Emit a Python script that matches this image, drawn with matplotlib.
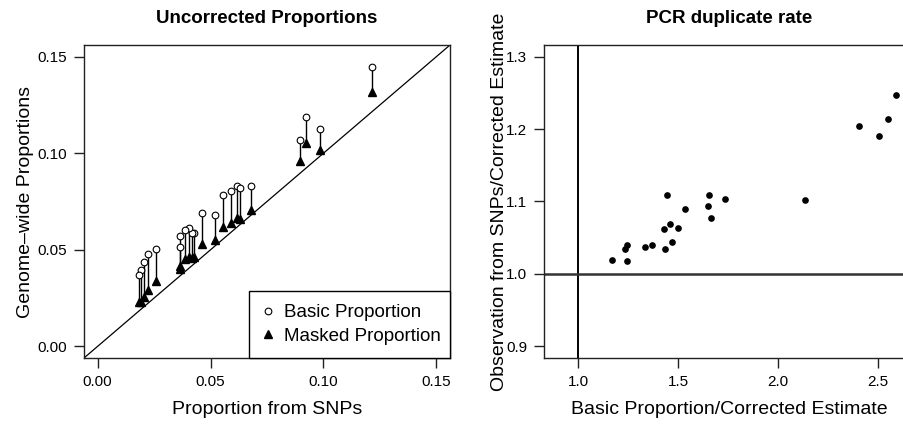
import matplotlib
matplotlib.use("Agg")
import matplotlib.pyplot as plt

plt.rcParams['font.family'] = ['Liberation Sans', 'DejaVu Sans']

# left panel: proportion from SNPs vs genome-wide proportions
snp_prop = [0.1213, 0.0894, 0.0924, 0.0984, 0.0681, 0.0615, 0.0630, 0.0590,
            0.0557, 0.0518, 0.0463, 0.0425, 0.0416, 0.0406, 0.0387, 0.0365,
            0.0365, 0.0260, 0.0225, 0.0205, 0.0191, 0.0183]
basic_prop = [0.1445, 0.1067, 0.1187, 0.1127, 0.0830, 0.0830, 0.0818, 0.0804,
              0.0782, 0.0682, 0.0691, 0.0589, 0.0586, 0.0612, 0.0600, 0.0572,
              0.0517, 0.0502, 0.0476, 0.0435, 0.0397, 0.0368]
masked_prop = [0.1316, 0.0960, 0.1053, 0.1015, 0.0706, 0.0663, 0.0660, 0.0641,
               0.0620, 0.0552, 0.0529, 0.0462, 0.0457, 0.0462, 0.0454, 0.0414,
               0.0400, 0.0337, 0.0290, 0.0256, 0.0230, 0.0228]

# right panel: PCR duplicate rate
basic_ratio = [1.167, 1.244, 1.235, 1.242, 1.334, 1.370, 1.432, 1.430, 1.457,
               1.469, 1.499, 1.444, 1.532, 1.649, 1.655, 1.662, 1.732, 2.132,
               2.404, 2.504, 2.552, 2.589]
snp_ratio = [1.0196, 1.0174, 1.0342, 1.0406, 1.0374, 1.0406, 1.0342, 1.0616,
             1.0694, 1.0438, 1.0640, 1.1087, 1.0895, 1.0940, 1.1087, 1.0776,
             1.1037, 1.1023, 1.2045, 1.1900, 1.2133, 1.2466]

left_ticks = [0.00, 0.05, 0.10, 0.15]
right_xticks = [1.0, 1.5, 2.0, 2.5]
right_yticks = [0.9, 1.0, 1.1, 1.2, 1.3]

W, H = 904, 424
fig = plt.figure(figsize=(W / 100, H / 100), dpi=100)


def px_axes(left, right, top, bottom):
    return fig.add_axes([left / W, (H - bottom) / H, (right - left) / W, (bottom - top) / H])


def style_axes(ax):
    for s in ax.spines.values():
        s.set_linewidth(1.0)
        s.set_color('#222222')
    ax.tick_params(direction='out', length=7, width=1.0, labelsize=11, pad=5, color='#222222')


# ---- left panel ----
ax1 = px_axes(84, 450, 45, 358)
ax1.set_xlim(-0.006, 0.156)
ax1.set_ylim(-0.006, 0.156)
ax1.axline((0, 0), slope=1, color='black', lw=0.9)
ax1.vlines(snp_prop, masked_prop, basic_prop, color='black', lw=1.0)
ax1.plot(snp_prop, basic_prop, 'o', ms=4.8, mfc='white', mec='black', mew=0.8,
         label='Basic Proportion')
ax1.plot(snp_prop, masked_prop, '^', ms=6, color='black', label='Masked Proportion')
ax1.set_xticks(left_ticks)
ax1.set_yticks(left_ticks)
ax1.set_xticklabels([f'{t:.2f}' for t in left_ticks])
ax1.set_yticklabels([f'{t:.2f}' for t in left_ticks])
style_axes(ax1)
ax1.set_xlabel('Proportion from SNPs', fontsize=14, labelpad=9)
ax1.set_ylabel('Genome\u2013wide Proportions', fontsize=14, labelpad=3)
ax1.set_title('Uncorrected Proportions', fontsize=13.5, fontweight='bold', pad=16)
x0 = (249 - 84) / (450 - 84)
leg = ax1.legend(loc='lower left', bbox_to_anchor=(x0, 0, 1 - x0, 0.3), mode='expand',
                 borderaxespad=0, fancybox=False, framealpha=1,
                 edgecolor='black', fontsize=13.5, handlelength=0.6,
                 handletextpad=0.57, labelspacing=0.35, borderpad=0.7)
leg.get_frame().set_linewidth(1.0)

# ---- right panel ----
ax2 = px_axes(544, 914, 45, 358)
ax2.set_xlim(0.828, 2.68)
ax2.set_ylim(0.884, 1.316)
ax2.axvline(1, color='black', lw=1.4)
ax2.axhline(1, color='#333333', lw=1.8)
ax2.plot(basic_ratio, snp_ratio, 'o', ms=3.8, color='black')
ax2.set_xticks(right_xticks)
ax2.set_yticks(right_yticks)
style_axes(ax2)
ax2.set_xlabel('Basic Proportion/Corrected Estimate', fontsize=14, labelpad=9)
ax2.set_ylabel('Observation from SNPs/Corrected Estimate', fontsize=14, labelpad=-1)
ax2.set_title('PCR duplicate rate', fontsize=13.5, fontweight='bold', pad=16)

fig.savefig('out.png', dpi=100)
